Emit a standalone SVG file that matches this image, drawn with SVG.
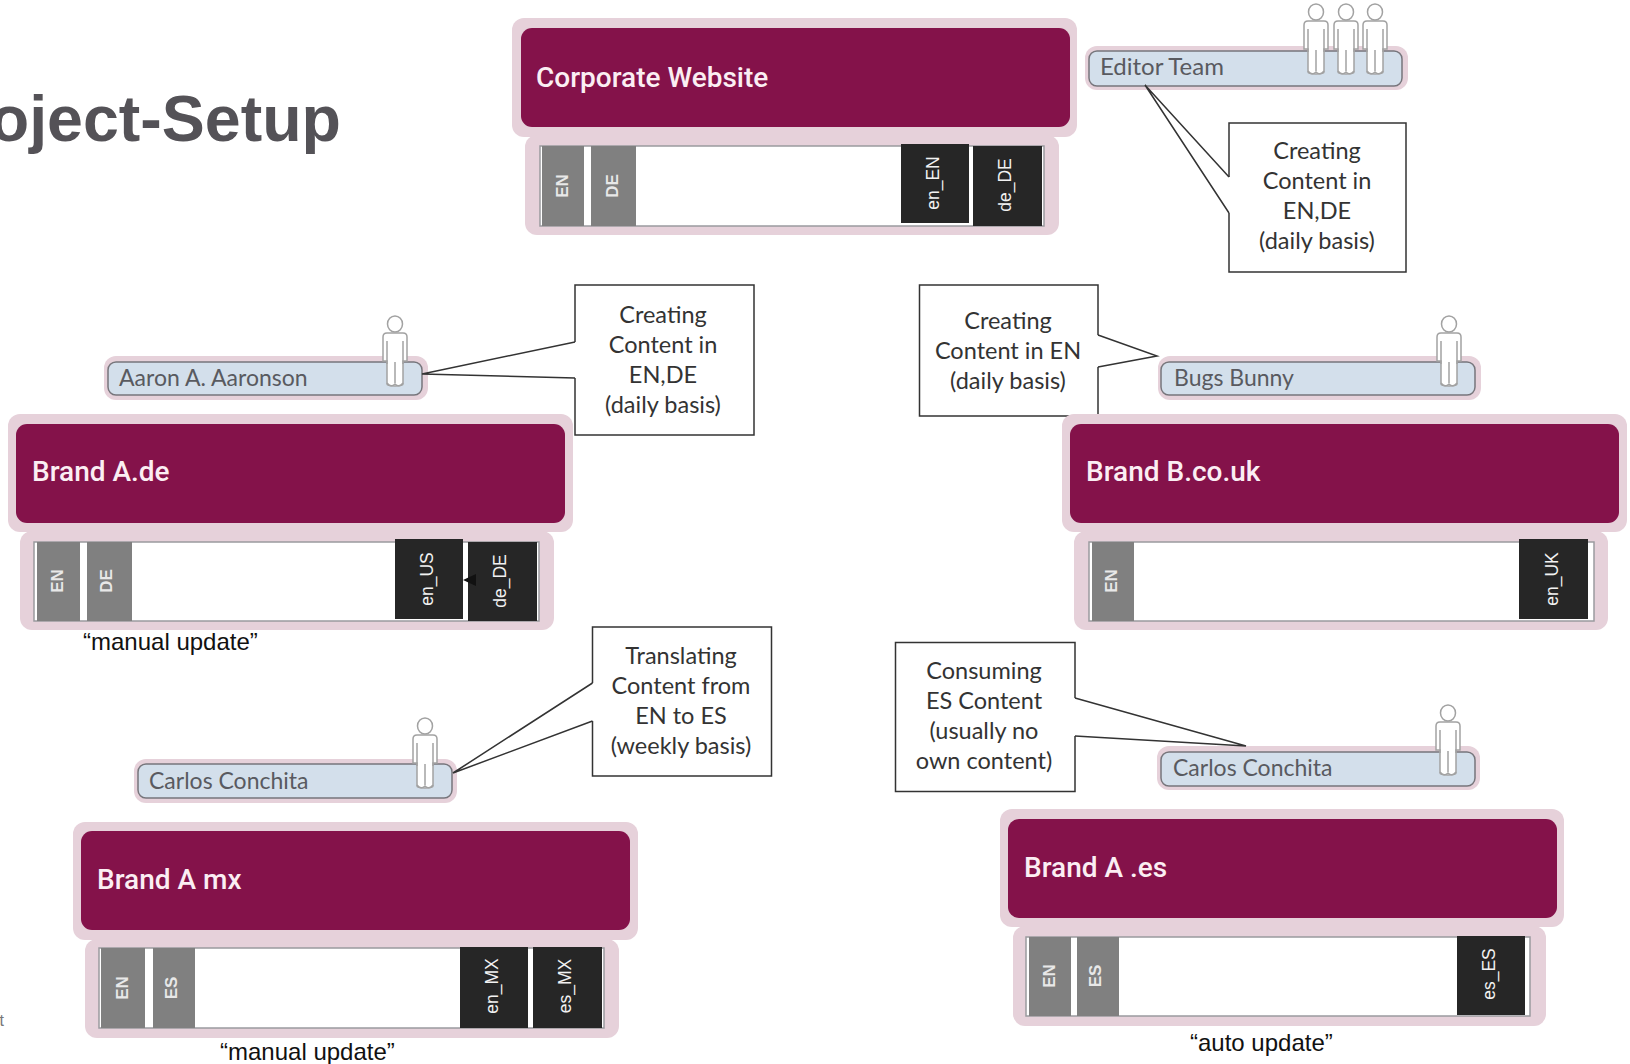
<svg xmlns="http://www.w3.org/2000/svg" width="1630" height="1064" viewBox="0 0 1630 1064">
<style>
.halo{fill:#e6d1da}
.head{fill:#84124a}
.frame{fill:#fff;stroke:#9a9a9f;stroke-width:1.5}
.g{fill:#808080}
.k{fill:#262626}
.pill{fill:#d3dfeb;stroke:#77767c;stroke-width:1.5}
.brand{font:500 28px Roboto,"Liberation Sans",sans-serif;fill:#fbeef3}
.name{font:23px Lato,"Liberation Sans",sans-serif;fill:#595a60}
.box{fill:#fff;stroke:#333;stroke-width:1.5}
.say{font:23.500px Lato,"Liberation Sans",sans-serif;fill:#333;text-anchor:middle}
.gt{font:700 17px "Liberation Sans",Arial,sans-serif;fill:#e8e8e8;text-anchor:middle}
.kt{font:17.500px "Liberation Sans",Arial,sans-serif;fill:#f2f2f2;text-anchor:middle}
.note{font:24px "Liberation Sans",Arial,sans-serif;fill:#111}
.title{font:700 64.500px "Liberation Sans",Arial,sans-serif;fill:#545257;text-anchor:end}
.tail{fill:#fff;stroke:#333;stroke-width:1.5}
.p{fill:#fff;stroke:#a2a2a2;stroke-width:1.5}
.pl{fill:none;stroke:#a2a2a2;stroke-width:1.5}
</style>
<defs>
<g id="person">
<ellipse class="p" cx="0" cy="0" rx="7.5" ry="8"/>
<path class="p" d="M-8,9H8Q12,9 12,13V37H8V60Q8,62 0,62Q-8,62 -8,60V37H-12V13Q-12,9 -8,9Z"/>
<path class="pl" d="M-8,17V40M8,17V40M0,38V59M-8,59Q-4,64 0,60Q4,64 8,59"/>
</g>
</defs>

<text id="page-title" class="title" x="341" y="141">oject-Setup</text>
<text id="page-fragment" x="4" y="1026" style="font:16px 'Liberation Sans',Arial,sans-serif;fill:#777;text-anchor:end">t</text>

<g id="corporate-website">
<rect class="halo" x="512" y="18" width="565" height="119" rx="12"/>
<rect class="halo" x="525" y="135" width="534" height="100" rx="12"/>
<rect class="head" x="521" y="28" width="549" height="99" rx="11"/>
<text class="brand" x="536" y="87">Corporate Website</text>
<rect class="frame" x="540" y="146" width="504" height="80"/>
<rect class="g" x="542" y="146" width="42" height="80"/>
<rect class="g" x="591" y="146" width="45" height="80"/>
<rect class="k" x="901" y="144" width="68" height="79"/>
<rect class="k" x="973" y="146" width="69" height="80"/>
<text class="gt" transform="translate(568,186) rotate(-90)">EN</text>
<text class="gt" transform="translate(618,186) rotate(-90)">DE</text>
<text class="kt" transform="translate(939,183) rotate(-90)">en_EN</text>
<text class="kt" transform="translate(1011,185) rotate(-90)">de_DE</text>
</g>

<g id="editor-team">
<rect class="halo" x="1085" y="46" width="323" height="44" rx="12"/>
<rect class="pill" x="1089" y="51" width="313" height="35" rx="8"/>
<text class="name" x="1100" y="75" style="font-size:24px">Editor Team</text>
<use href="#person" x="1316" y="12"/>
<use href="#person" x="1346" y="12"/>
<use href="#person" x="1375" y="12"/>
</g>
<g id="callout-editor">
<path class="box" d="M1229,177V123H1406V272H1229V213"/>
<text class="say" x="1317" y="159">Creating</text>
<text class="say" x="1317" y="189">Content in</text>
<text class="say" x="1317" y="219">EN,DE</text>
<text class="say" x="1317" y="249">(daily basis)</text>
</g>

<g id="aaron">
<rect class="halo" x="104" y="356" width="324" height="44" rx="12"/>
<rect class="pill" x="108" y="362" width="314" height="33" rx="8"/>
<text class="name" x="119" y="386">Aaron A. Aaronson</text>
<use href="#person" x="395" y="324"/>
</g>
<g id="callout-aaron">
<path class="box" d="M575,342V285H754V435H575V378"/>
<text class="say" x="663" y="323">Creating</text>
<text class="say" x="663" y="353">Content in</text>
<text class="say" x="663" y="383">EN,DE</text>
<text class="say" x="663" y="413">(daily basis)</text>
</g>

<g id="brand-a-de">
<rect class="halo" x="8" y="414" width="565" height="118" rx="12"/>
<rect class="halo" x="20" y="531" width="534" height="99" rx="12"/>
<rect class="head" x="16" y="424" width="549" height="99" rx="11"/>
<text class="brand" x="32" y="481">Brand A.de</text>
<rect class="frame" x="34" y="542" width="505" height="79"/>
<rect class="g" x="37" y="542" width="43" height="79"/>
<rect class="g" x="87" y="542" width="45" height="79"/>
<rect class="k" x="395" y="539" width="68" height="80"/>
<rect class="k" x="468" y="542" width="69" height="79"/>
<path d="M463,580L476,574V586Z" fill="#111"/>
<text class="gt" transform="translate(63,581) rotate(-90)">EN</text>
<text class="gt" transform="translate(112,581) rotate(-90)">DE</text>
<text class="kt" transform="translate(433,579) rotate(-90)">en_US</text>
<text class="kt" transform="translate(506,581) rotate(-90)">de_DE</text>
</g>
<text id="note-a-de" class="note" x="83" y="650">“manual update”</text>

<g id="bugs">
<rect class="halo" x="1158" y="356" width="323" height="44" rx="12"/>
<rect class="pill" x="1161" y="362" width="314" height="33" rx="8"/>
<text class="name" x="1174" y="386">Bugs Bunny</text>
<use href="#person" x="1449" y="324"/>
</g>
<g id="callout-bugs">
<path class="box" d="M1098,335V285H919.500V416H1098V367"/>
<text class="say" x="1008" y="329">Creating</text>
<text class="say" x="1008" y="359">Content in EN</text>
<text class="say" x="1008" y="389">(daily basis)</text>
</g>

<g id="brand-b">
<rect class="halo" x="1062" y="414" width="565" height="118" rx="12"/>
<rect class="halo" x="1074" y="531" width="534" height="99" rx="12"/>
<rect class="head" x="1070" y="424" width="549" height="99" rx="11"/>
<text class="brand" x="1086" y="481">Brand B.co.uk</text>
<rect class="frame" x="1089" y="542" width="505" height="79"/>
<rect class="g" x="1092" y="542" width="42" height="79"/>
<rect class="k" x="1519" y="539" width="69" height="80"/>
<text class="gt" transform="translate(1117,581) rotate(-90)">EN</text>
<text class="kt" transform="translate(1558,579) rotate(-90)">en_UK</text>
</g>

<g id="carlos-mx">
<rect class="halo" x="134" y="759" width="323" height="44" rx="12"/>
<rect class="pill" x="138" y="764" width="314" height="34" rx="8"/>
<text class="name" x="149" y="789">Carlos Conchita</text>
<use href="#person" x="425" y="726"/>
</g>
<g id="callout-mx">
<path class="box" d="M592.500,683V627H771.500V776H592.500V721"/>
<text class="say" x="681" y="664">Translating</text>
<text class="say" x="681" y="694">Content from</text>
<text class="say" x="681" y="724">EN to ES</text>
<text class="say" x="681" y="754">(weekly basis)</text>
</g>

<g id="brand-a-mx">
<rect class="halo" x="73" y="822" width="565" height="118" rx="12"/>
<rect class="halo" x="85" y="939" width="534" height="99" rx="12"/>
<rect class="head" x="81" y="831" width="549" height="99" rx="11"/>
<text class="brand" x="97" y="889">Brand A mx</text>
<rect class="frame" x="99" y="948" width="505" height="80"/>
<rect class="g" x="101" y="948" width="44" height="80"/>
<rect class="g" x="153" y="948" width="42" height="80"/>
<rect class="k" x="460" y="947" width="68" height="81"/>
<rect class="k" x="533" y="947" width="69" height="81"/>
<text class="gt" transform="translate(128,988) rotate(-90)">EN</text>
<text class="gt" transform="translate(177,988) rotate(-90)">ES</text>
<text class="kt" transform="translate(498,986) rotate(-90)">en_MX</text>
<text class="kt" transform="translate(571,986) rotate(-90)">es_MX</text>
</g>
<text id="note-mx" class="note" x="220" y="1060">“manual update”</text>

<g id="carlos-es">
<rect class="halo" x="1157" y="746" width="323" height="44" rx="12"/>
<rect class="pill" x="1161" y="752" width="314" height="34" rx="8"/>
<text class="name" x="1173" y="776">Carlos Conchita</text>
<use href="#person" x="1448" y="713"/>
</g>
<g id="callout-es">
<path class="box" d="M1075,698V642.500H895.500V791.500H1075V736"/>
<text class="say" x="984" y="679">Consuming</text>
<text class="say" x="984" y="709">ES Content</text>
<text class="say" x="984" y="739">(usually no</text>
<text class="say" x="984" y="769">own content)</text>
</g>

<g id="brand-a-es">
<rect class="halo" x="1000" y="809" width="564" height="118" rx="12"/>
<rect class="halo" x="1013" y="926" width="533" height="100" rx="12"/>
<rect class="head" x="1008" y="819" width="549" height="99" rx="11"/>
<text class="brand" x="1024" y="877">Brand A .es</text>
<rect class="frame" x="1026" y="937" width="504" height="79"/>
<rect class="g" x="1029" y="937" width="42" height="79"/>
<rect class="g" x="1077" y="937" width="42" height="79"/>
<rect class="k" x="1457" y="936" width="68" height="79"/>
<text class="gt" transform="translate(1055,976) rotate(-90)">EN</text>
<text class="gt" transform="translate(1101,976) rotate(-90)">ES</text>
<text class="kt" transform="translate(1495,974) rotate(-90)">es_ES</text>
</g>
<text id="note-es" class="note" x="1190" y="1051">“auto update”</text>

<g id="connectors">
<polyline class="tail" points="1229,177 1145,85 1229,213"/>
<polyline class="tail" points="575,342 422,374 575,378"/>
<polyline class="tail" points="1098,335 1157,356 1098,367"/>
<polyline class="tail" points="592.500,683 453,773 592.500,721"/>
<polyline class="tail" points="1075,698 1246,746 1075,736"/>
</g>
</svg>
